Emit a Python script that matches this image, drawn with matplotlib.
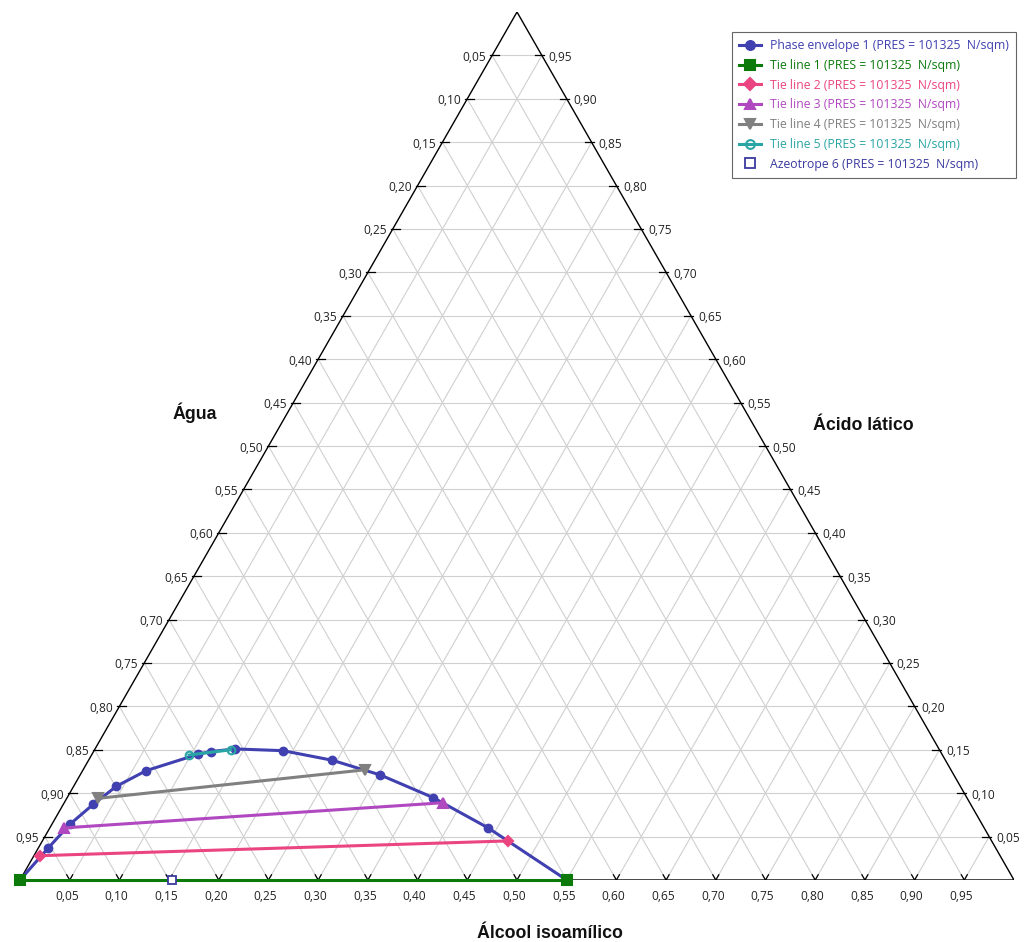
import numpy as np
import matplotlib
matplotlib.use("Agg")
import matplotlib.pyplot as plt

plt.rcParams['font.family'] = ['Open Sans', 'DejaVu Sans']

# compositions as (alcool isoamilico, acido latico) mole fractions
envelope_alc = [0.0, 0.010, 0.018, 0.030, 0.043, 0.064, 0.107, 0.118, 0.141,
                0.190, 0.245, 0.302, 0.368, 0.441, 0.55]
envelope_acid = [0.0, 0.037, 0.064, 0.087, 0.108, 0.126, 0.145, 0.148, 0.151,
                 0.149, 0.138, 0.121, 0.095, 0.060, 0.0]

tie_alc = [[0.0, 0.55], [0.006, 0.468], [0.014, 0.381], [0.031, 0.284], [0.098, 0.137]]
tie_acid = [[0.0, 0.0], [0.028, 0.045], [0.060, 0.089], [0.094, 0.127], [0.144, 0.150]]

azeo_alc = [0.153]
azeo_acid = [0.0]

tick_values = [round(0.05 * i, 2) for i in range(1, 20)]

PX_W = 994.0
PX_H = 868.0


def tern(alc, acid):
    alc = np.asarray(alc, dtype=float)
    acid = np.asarray(acid, dtype=float)
    return alc + acid / 2.0, acid


def fmt(v):
    return ("%.2f" % v).replace(".", ",")


fig = plt.figure(figsize=(10.26, 9.42), dpi=100)
ax = fig.add_axes([20 / 1026, 62 / 942, PX_W / 1026, PX_H / 942])
ax.set_xlim(0, 1)
ax.set_ylim(0, 1)
ax.axis("off")

grid_kw = dict(color="#d0d0d0", lw=0.8, zorder=1)
for v in tick_values:
    ax.plot([v / 2, 1 - v / 2], [v, v], **grid_kw)
    ax.plot([v, v + (1 - v) / 2], [0, 1 - v], **grid_kw)
    ax.plot([1 - v, (1 - v) / 2], [0, 1 - v], **grid_kw)

ax.plot([0, 1, 0.5, 0], [0, 0, 1, 0], color="black", lw=1.0, zorder=2)

dx = 3.0 / PX_W
dy = 5.2 / PX_H
for v in tick_values:
    # bottom ticks
    ax.plot([v, v + dx], [0, dy], color="black", lw=0.9, zorder=2)
    ax.plot([v, v - dx], [0, dy], color="black", lw=0.9, zorder=2)
    ax.text(v - 3 / PX_W, -16 / PX_H, fmt(v), ha="center", va="center", fontsize=8.6,
            color="#222222")
    # left side (Agua), horizontal ticks
    h = 1 - v
    xl = h / 2
    ax.plot([xl - 2 / PX_W, xl + 7 / PX_W], [h, h], color="black", lw=0.9, zorder=2)
    ax.text(xl - 6 / PX_W, h - 2 / PX_H, fmt(v), ha="right", va="center", fontsize=8.6,
            color="#222222")
    # right side (Acido latico)
    h = v
    xr = 1 - h / 2
    ax.plot([xr - 7 / PX_W, xr + 2 / PX_W], [h, h], color="black", lw=0.9, zorder=2)
    ax.text(xr + 7 / PX_W, h - 2 / PX_H, fmt(v), ha="left", va="center", fontsize=8.6,
            color="#222222")

title_kw = dict(ha="center", va="center", fontsize=12.8, fontweight="bold",
                family=["Liberation Sans", "DejaVu Sans"], color="#111111")
fig.text(195 / 1026, 1 - 413 / 942, "Água", **title_kw)
fig.text(863 / 1026, 1 - 425 / 942, "Ácido lático", **title_kw)
fig.text(550 / 1026, 1 - 933 / 942, "Álcool isoamílico", **title_kw)

label = "(PRES = 101325  N/sqm)"
x, y = tern(envelope_alc, envelope_acid)
ax.plot(x, y, "-o", color="#4040b0", lw=2.2, ms=6, zorder=5, clip_on=False,
        label="Phase envelope 1 " + label)

tie_styles = [
    ("#0b7a0b", "s", 6.5, "full"),
    ("#ea4580", "D", 5.5, "full"),
    ("#b048c0", "^", 6.5, "full"),
    ("#808080", "v", 6.5, "full"),
    ("#2aa5a5", "o", 5.5, "none"),
]
for i, (a, c) in enumerate(zip(tie_alc, tie_acid)):
    col, mk, ms, fill = tie_styles[i]
    x, y = tern(a, c)
    ax.plot(x, y, "-", marker=mk, color=col, lw=2.2, ms=ms, fillstyle=fill,
            mfc="white" if fill == "none" else col, mew=1.5, zorder=6,
            clip_on=False, label="Tie line %d %s" % (i + 1, label))

x, y = tern(azeo_alc, azeo_acid)
ax.plot(x, y, "s", color="#3a3aa0", mfc="white", mew=1.3, ms=6, zorder=7,
        clip_on=False, label="Azeotrope 6 " + label)

leg = fig.legend(loc="upper right", bbox_to_anchor=(1016 / 1026, 1 - 32 / 942),
                 fontsize=8.8, labelcolor="linecolor", frameon=True, fancybox=False,
                 edgecolor="#404040", handlelength=1.8, borderpad=0.6,
                 labelspacing=0.55, handletextpad=0.7, borderaxespad=0,
                 markerscale=1.15)
leg.get_frame().set_linewidth(0.8)
leg.texts[-1].set_color("#3a3aa0")

fig.savefig("out.png", dpi=100)
